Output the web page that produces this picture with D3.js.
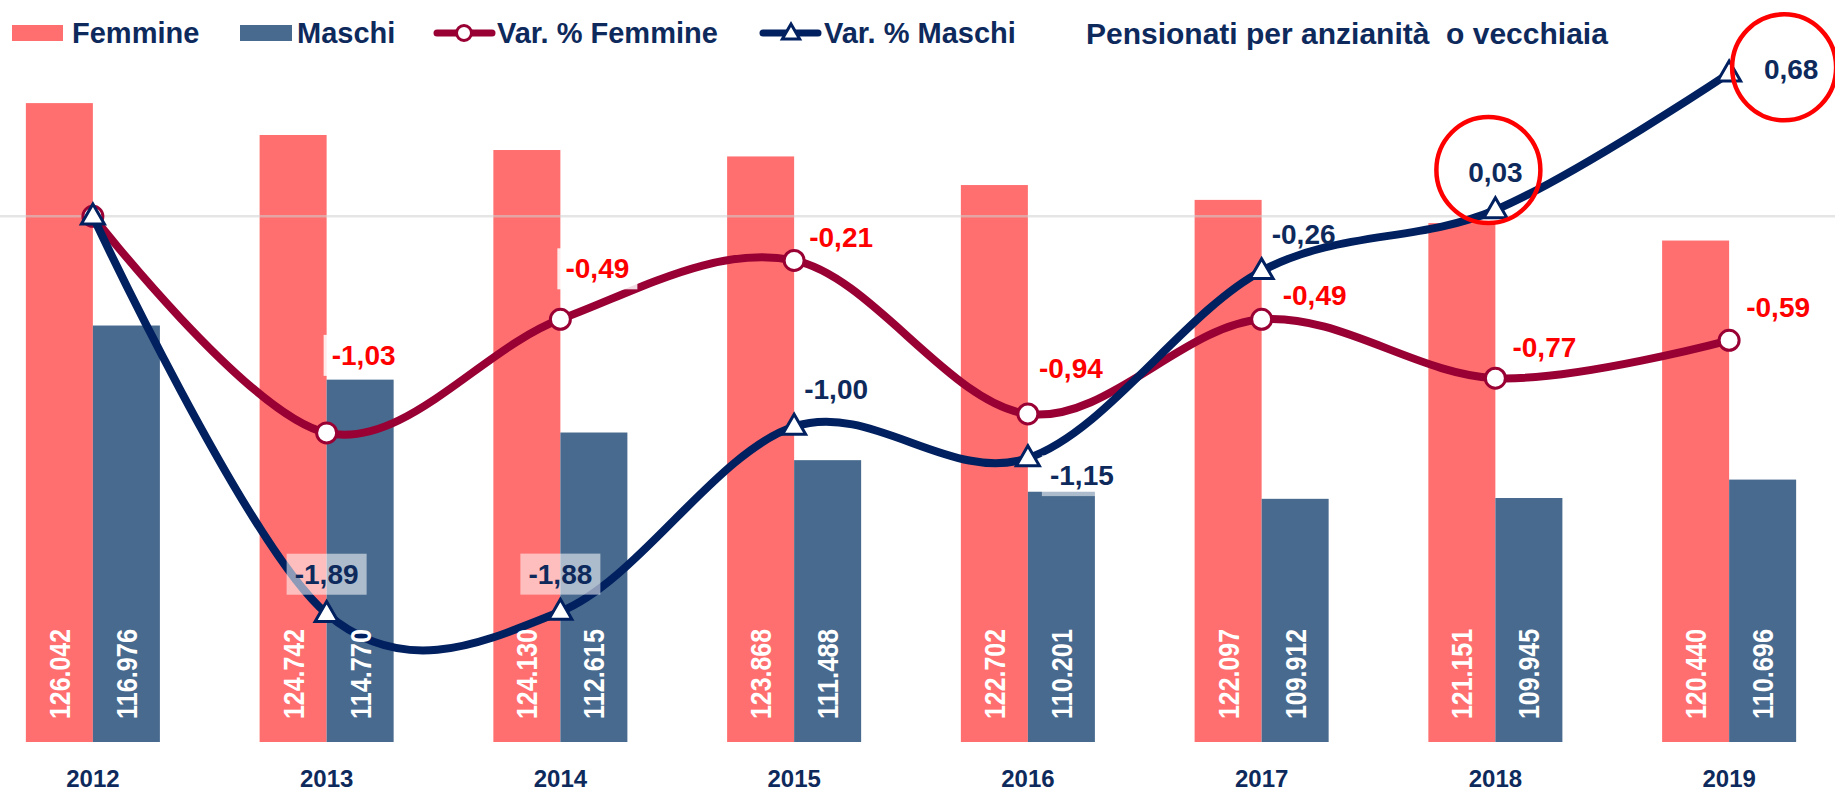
<!DOCTYPE html>
<html>
<head>
<meta charset="utf-8">
<script src="https://cdn.jsdelivr.net/npm/d3@7"></script>
<style>
  html, body { margin: 0; padding: 0; background: #ffffff; }
  svg { display: block; }
</style>
</head>
<body>
<div id="chart"></div>
<script>
// data
const years = ['2012', '2013', '2014', '2015', '2016', '2017', '2018', '2019'];
const femmine = [126042, 124742, 124130, 123868, 122702, 122097, 121151, 120440];
const maschi = [116976, 114770, 112615, 111488, 110201, 109912, 109945, 110696];
const varFemmine = [0, -1.03, -0.49, -0.21, -0.94, -0.49, -0.77, -0.59];
const varMaschi = [0, -1.89, -1.88, -1.00, -1.15, -0.26, 0.03, 0.68];
const legendLabels = ['Femmine', 'Maschi', 'Var. % Femmine', 'Var. % Maschi'];
const chartTitle = 'Pensionati per anzianità  o vecchiaia';
const highlightedYears = ['2018', '2019'];

// label placement (dx, dy from the point), null = no label
const femLabelOffset = [null, [37, -78], [37, -51], [47, -24], [43, -46], [53, -24], [49, -31], [49, -33]];
const masLabelOffset = [null, [0, -40], [0, -38], [42, -38], [54, 17], [42, -37], [0, -38], [62, -4]];
const femLabelBox = [false, true, true, false, false, false, false, false];
const masLabelBox = [false, true, true, false, true, false, false, false];

const width = 1835;
const height = 792;
const plotTop = 6;
const plotBottom = 742;

const femColor = '#FF6F6F';
const masColor = '#486A8E';
const femLineColor = '#990033';
const masLineColor = '#002060';
const navyText = '#0E2A5C';
const redText = '#FF0000';
const mainFont = '"Liberation Sans", Arial, sans-serif';

const it = d3.formatLocale({decimal: ',', thousands: '.', grouping: [3], currency: ['€', ''], minus: '-'});
const formatBar = it.format(',d');
const formatVar = it.format('.2f');

const svg = d3.select('#chart')
  .append('svg')
  .attr('width', width)
  .attr('height', height)
  .style('background', '#ffffff');

const xScale = d3.scaleBand()
  .domain(years)
  .range([-24, 1846])
  .padding(0);

const xSub = d3.scaleBand()
  .domain(['F', 'M'])
  .range([0, xScale.bandwidth()])
  .paddingInner(0)
  .paddingOuter(0.744);

const yBar = d3.scaleLinear()
  .domain([100000, 130000])
  .range([plotBottom, plotTop]);

const yVar = d3.scaleLinear()
  .domain([-2.5, 1])
  .range([plotBottom, plotTop]);

const cx = (i) => xScale(years[i]) + xScale.bandwidth() / 2;

const barData = years.map((year, i) => ({year, F: femmine[i], M: maschi[i]}));

// bars
const groups = svg.append('g')
  .attr('class', 'bars')
  .selectAll('g')
  .data(barData)
  .join('g')
  .attr('transform', d => `translate(${xScale(d.year)},0)`);

groups.selectAll('rect')
  .data(d => ['F', 'M'].map(key => ({key, value: d[key]})))
  .join('rect')
  .attr('x', d => xSub(d.key))
  .attr('width', xSub.bandwidth())
  .attr('y', d => yBar(d.value))
  .attr('height', d => plotBottom - yBar(d.value))
  .attr('fill', d => d.key === 'F' ? femColor : masColor);

// zero line of the secondary axis
svg.append('line')
  .attr('x1', 0)
  .attr('x2', width)
  .attr('y1', yVar(0))
  .attr('y2', yVar(0))
  .attr('stroke', '#cfcfcf')
  .attr('stroke-opacity', 0.55)
  .attr('stroke-width', 2.5);

const line = d3.line()
  .x((d, i) => cx(i))
  .y(d => yVar(d))
  .curve(d3.curveCatmullRom.alpha(0));

const triangle = d3.symbol().type(d3.symbolTriangle).size(230);

function drawSeries(values, color, marker) {
  const g = svg.append('g');
  g.append('path')
    .datum(values)
    .attr('fill', 'none')
    .attr('stroke', color)
    .attr('stroke-width', 8)
    .attr('stroke-linejoin', 'round')
    .attr('stroke-linecap', 'round')
    .attr('d', line);

  if (marker === 'circle') {
    g.selectAll('circle')
      .data(values)
      .join('circle')
      .attr('cx', (d, i) => cx(i))
      .attr('cy', d => yVar(d))
      .attr('r', 10)
      .attr('fill', '#ffffff')
      .attr('stroke', color)
      .attr('stroke-width', 3);
  } else {
    g.selectAll('path.marker')
      .data(values)
      .join('path')
      .attr('class', 'marker')
      .attr('transform', (d, i) => `translate(${cx(i)},${yVar(d) + 1})`)
      .attr('d', triangle)
      .attr('fill', '#ffffff')
      .attr('stroke', color)
      .attr('stroke-width', 3)
      .attr('stroke-linejoin', 'miter');
  }
}

drawSeries(varFemmine, femLineColor, 'circle');
drawSeries(varMaschi, masLineColor, 'triangle');

// bar value labels
const barLabels = svg.append('g').attr('class', 'bar-labels');
barData.forEach(d => {
  ['F', 'M'].forEach(key => {
    const x = xScale(d.year) + xSub(key) + xSub.bandwidth() / 2;
    barLabels.append('text')
      .attr('transform', `translate(${x},${plotBottom - 23}) rotate(-90)`)
      .attr('text-anchor', 'start')
      .attr('dy', '0.36em')
      .attr('textLength', 90)
      .attr('lengthAdjust', 'spacingAndGlyphs')
      .style('font-family', mainFont)
      .style('font-weight', 'bold')
      .style('font-size', '29px')
      .style('fill', '#ffffff')
      .text(formatBar(d[key]));
  });
});

// line value labels
function drawVarLabels(values, offsets, boxes, color) {
  const g = svg.append('g');
  values.forEach((v, i) => {
    const off = offsets[i];
    if (!off) return;
    const lx = cx(i) + off[0];
    const ly = yVar(v) + off[1];
    if (boxes[i]) {
      g.append('rect')
        .attr('x', lx - 40)
        .attr('y', ly - 20)
        .attr('width', 80)
        .attr('height', 41)
        .attr('fill', '#ffffff')
        .attr('fill-opacity', color === redText ? 0.85 : 0.55);
    }
    g.append('text')
      .attr('x', lx)
      .attr('y', ly)
      .attr('dy', '0.36em')
      .attr('text-anchor', 'middle')
      .style('font-family', mainFont)
      .style('font-weight', 'bold')
      .style('font-size', '28px')
      .style('fill', color)
      .text(formatVar(v));
  });
}

drawVarLabels(varFemmine, femLabelOffset, femLabelBox, redText);
drawVarLabels(varMaschi, masLabelOffset, masLabelBox, navyText);

// red highlight rings
highlightedYears.forEach(year => {
  const i = years.indexOf(year);
  const off = masLabelOffset[i];
  svg.append('ellipse')
    .attr('cx', cx(i) + off[0] - 7)
    .attr('cy', yVar(varMaschi[i]) + off[1] - 2)
    .attr('rx', 52)
    .attr('ry', 53)
    .attr('fill', 'none')
    .attr('stroke', '#FF0000')
    .attr('stroke-width', 4.5);
});

// x axis labels
const xAxis = d3.axisBottom(xScale).tickSize(0).tickPadding(0);
const xAxisElement = svg.append('g')
  .attr('transform', `translate(0, 770)`)
  .call(xAxis);
xAxisElement.select('path').remove();
xAxisElement.selectAll('text')
  .attr('dy', '0.71em')
  .style('font-family', mainFont)
  .style('font-weight', 'bold')
  .style('font-size', '24px')
  .style('fill', navyText);

// legend
const legend = svg.append('g').attr('class', 'legend');
const legendY = 33;
const legendText = (x, label) => legend.append('text')
  .attr('x', x)
  .attr('y', legendY)
  .attr('dy', '0.36em')
  .style('font-family', mainFont)
  .style('font-weight', 'bold')
  .style('font-size', '29px')
  .style('fill', navyText)
  .text(label);

legend.append('rect').attr('x', 12).attr('y', 25).attr('width', 51).attr('height', 16).attr('fill', femColor);
legendText(72, legendLabels[0]);
legend.append('rect').attr('x', 240).attr('y', 25).attr('width', 52).attr('height', 16).attr('fill', masColor);
legendText(297, legendLabels[1]);

legend.append('line')
  .attr('x1', 437).attr('x2', 492).attr('y1', legendY).attr('y2', legendY)
  .attr('stroke', femLineColor).attr('stroke-width', 7).attr('stroke-linecap', 'round');
legend.append('circle')
  .attr('cx', 464).attr('cy', legendY).attr('r', 7.5)
  .attr('fill', '#ffffff').attr('stroke', femLineColor).attr('stroke-width', 3);
legendText(497, legendLabels[2]);

legend.append('line')
  .attr('x1', 763).attr('x2', 818).attr('y1', legendY).attr('y2', legendY)
  .attr('stroke', masLineColor).attr('stroke-width', 7).attr('stroke-linecap', 'round');
legend.append('path')
  .attr('transform', `translate(791,${legendY + 1})`)
  .attr('d', d3.symbol().type(d3.symbolTriangle).size(130))
  .attr('fill', '#ffffff').attr('stroke', masLineColor).attr('stroke-width', 3);
legendText(824, legendLabels[3]);

svg.append('text')
  .attr('x', 1086)
  .attr('y', legendY)
  .attr('dy', '0.36em')
  .style('white-space', 'pre')
  .style('font-family', mainFont)
  .style('font-weight', 'bold')
  .style('font-size', '30px')
  .style('fill', navyText)
  .text(chartTitle);
</script>
</body>
</html>
